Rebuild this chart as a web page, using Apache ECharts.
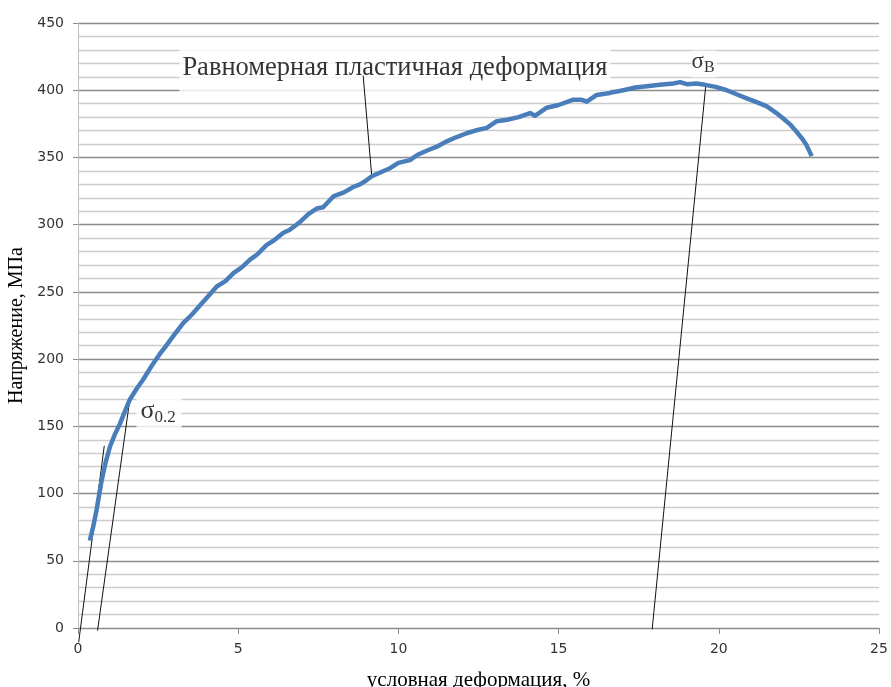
<!DOCTYPE html>
<html>
<head>
<meta charset="utf-8">
<script src="https://cdn.jsdelivr.net/npm/echarts@6/dist/echarts.min.js"></script>
<style>
  html, body { margin: 0; padding: 0; background: #fff; }
  #chart { width: 891px; height: 687px; }
</style>
</head>
<body>
<div id="chart"></div>
<script>
// Engineering stress-strain curve: strain (%) vs stress (MPa)
const strain = [0.37,0.48,0.58,0.66,0.74,0.86,1.0,1.15,1.31,1.46,1.62,1.83,2.04,2.3,2.56,2.72,3.0,3.29,3.55,3.81,4.07,4.33,4.6,4.85,5.1,5.37,5.6,5.89,6.1,6.41,6.6,6.93,7.2,7.45,7.65,7.97,8.3,8.59,8.8,9.0,9.17,9.45,9.74,10.0,10.36,10.6,10.88,11.2,11.51,11.8,12.13,12.4,12.76,13.07,13.4,13.75,14.11,14.26,14.63,15.0,15.46,15.7,15.88,16.19,16.6,17.02,17.4,17.75,18.16,18.58,18.79,19.0,19.3,19.57,19.9,20.25,20.55,20.87,21.2,21.5,21.8,22.01,22.25,22.43,22.6,22.74,22.9];
const stress = [65,76,88,99,110,123,135,144,152,161,170,178,185,195,204,209,218,227,233,240,247,254,258,264,268,274,278,285,288,294,296,302,308,312,313,321,324,328,330,333,336,339,342,346,348,352,355,358,362,365,368,370,372,377,378,380,383,381,387,389,393,393,391.5,396.5,398,400,402,403,404,405,406,404.5,405,404,402.5,400,397,394,391,388,383,379,374,369,364,359,351];

// Construction lines: elastic slope, 0.2% offset line, line to the ultimate point, text leader
const elasticLine = [[0.02, -10.7], [0.82, 135.5]];
const offsetLine = [[0.61, -2], [1.6, 167]];
const ultimateLine = [[17.92, -1], [19.6, 405]];
const leaderLine = [[8.9, 411], [9.17, 335.5]];

// Annotation anchors (strain, stress)
const noteUniform = [9.89, 416.5];
const noteYield = [2.53, 160];
const noteUltimate = [19.54, 419.5];

const xTicks = { min: 0, max: 25, interval: 5 };
const yTicks = { min: 0, max: 450, interval: 50 };

const serif = '"Liberation Serif", "Times New Roman", serif';
const sans = '"DejaVu Sans", Verdana, sans-serif';

const curve = strain.map((s, i) => [s, stress[i]]);

function thinLine(data) {
  return {
    type: 'line', data: data, clip: false, showSymbol: false, silent: true,
    lineStyle: { color: '#111', width: 1 }, z: 4
  };
}

function note(pos, label) {
  return {
    type: 'scatter', data: [pos], symbolSize: 0, silent: true, z: 3,
    label: Object.assign({ show: true, position: 'inside', backgroundColor: '#fff' }, label)
  };
}

const chart = echarts.init(document.getElementById('chart'), null, { renderer: 'canvas' });
chart.setOption({
  animation: false,
  backgroundColor: '#fff',
  grid: { left: 78, right: 12, top: 23, bottom: 59, containLabel: false, outerBoundsMode: 'none' },
  xAxis: {
    type: 'value', min: xTicks.min, max: xTicks.max, interval: xTicks.interval,
    name: 'условная деформация, %', nameLocation: 'middle', nameGap: 42,
    nameTextStyle: { fontFamily: serif, fontSize: 21, color: '#000' },
    axisLine: { show: true, onZero: false, lineStyle: { color: '#8c8c8c', width: 1 } },
    axisTick: { show: true, length: 6, lineStyle: { color: '#8c8c8c' } },
    axisLabel: { fontFamily: sans, fontSize: 14, color: '#333', margin: 14 },
    splitLine: { show: false }
  },
  yAxis: {
    type: 'value', min: yTicks.min, max: yTicks.max, interval: yTicks.interval,
    name: 'Напряжение, МПа', nameLocation: 'middle', nameGap: 47,
    nameTextStyle: { fontFamily: serif, fontSize: 20, color: '#000' },
    axisLine: { show: true, lineStyle: { color: '#c0c0c0', width: 1 } },
    axisTick: { show: true, length: 5, lineStyle: { color: '#8c8c8c' } },
    axisLabel: { fontFamily: sans, fontSize: 14, color: '#333', margin: 14 },
    splitLine: { show: true, lineStyle: { color: '#8c8c8c', width: 1.3 } },
    minorTick: { show: false, splitNumber: 5 },
    minorSplitLine: { show: true, lineStyle: { color: '#cccccc', width: 1.3 } }
  },
  series: [
    note(noteUniform, {
      formatter: 'Равномерная пластичная деформация',
      fontFamily: serif, fontSize: 26.5, color: '#000', padding: [13, 3, 11, 3]
    }),
    note(noteYield, {
      formatter: '{s|σ}{sub|0.2}',
      rich: {
        s: { fontFamily: serif, fontSize: 26, color: '#000', padding: [0, 0, 4, 0] },
        sub: { fontFamily: serif, fontSize: 17, color: '#000', padding: [9, 2, 0, 0] }
      },
      padding: [4, 4, 4, 4]
    }),
    note(noteUltimate, {
      formatter: '{s|σ}{sub|В}',
      rich: {
        s: { fontFamily: serif, fontSize: 23, color: '#000', padding: [0, 0, 4, 0] },
        sub: { fontFamily: serif, fontSize: 16, color: '#000', padding: [8, 2, 0, 0] }
      }
    }),
    {
      type: 'line', data: curve, showSymbol: false, smooth: false, z: 5,
      lineStyle: { color: '#4a7ebb', width: 4.5, join: 'round' }
    },
    thinLine(elasticLine),
    thinLine(offsetLine),
    thinLine(ultimateLine),
    thinLine(leaderLine)
  ]
});
</script>
</body>
</html>
